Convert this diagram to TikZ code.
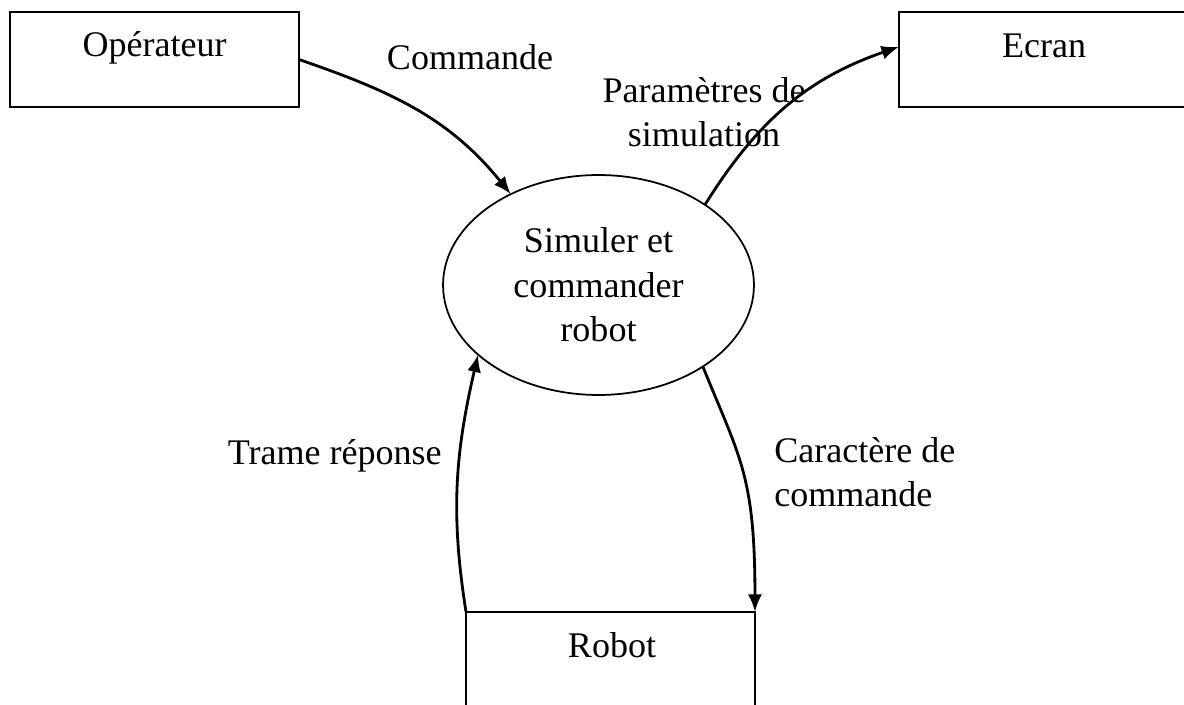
\documentclass[tikz,border=0pt]{standalone}
\usepackage{fontspec}
\setmainfont{Liberation Serif}
\usetikzlibrary{shapes.geometric,arrows.meta}

\begin{document}
\begin{tikzpicture}[x=0.02cm,y=0.02cm,
    box/.style={draw,line width=1pt,minimum width=5.78cm,minimum height=1.9cm,inner sep=0pt,outer sep=0pt},
    flux/.style={-{Latex[length=10pt,width=8pt]},line width=1.6pt},
    lbl/.style={inner sep=0pt,font=\fontsize{20.5}{25.3}\selectfont}]
    \useasboundingbox(0,0)rectangle(1184,704);
    \node[box](opbox)at(154.5,644.5){};
    \node[box,minimum width=5.82cm](ecbox)at(1044.5,644.5){};
    \node[box](robox)at(610.5,44.5){};
    \node[draw,ellipse,line width=1pt,minimum width=6.22cm,minimum height=4.4cm,outer sep=0pt,align=center,lbl](sim)at(598.5,419){Simuler et\\commander\\robot};
    \node[lbl,anchor=base](optxt)at(154.5,647){Opérateur};
    \node[lbl,anchor=base](ectxt)at(1044,646){Ecran};
    \node[lbl,anchor=base](rotxt)at(612,47){Robot};
    \node[lbl,anchor=base](cmd)at(470,634){Commande};
    \node[lbl,anchor=base,align=center](param)at(704,557){Paramètres de\\simulation};
    \node[lbl,anchor=base east](trame)at(442,239){Trame réponse};
    \node[lbl,anchor=base west,align=left](carac)at(774,197){Caractère de\\commande};
    \draw[flux](opbox.east)to[out=-19,in=129](sim.134);
    \draw[flux](sim.37)to[out=58,in=199](ecbox.175);
    \draw[flux](robox.north west)to[out=99,in=-103](sim.210);
    \draw[flux](sim.-38)to[out=-68,in=90,in looseness=1.4](robox.north east);
\end{tikzpicture}
\end{document}
